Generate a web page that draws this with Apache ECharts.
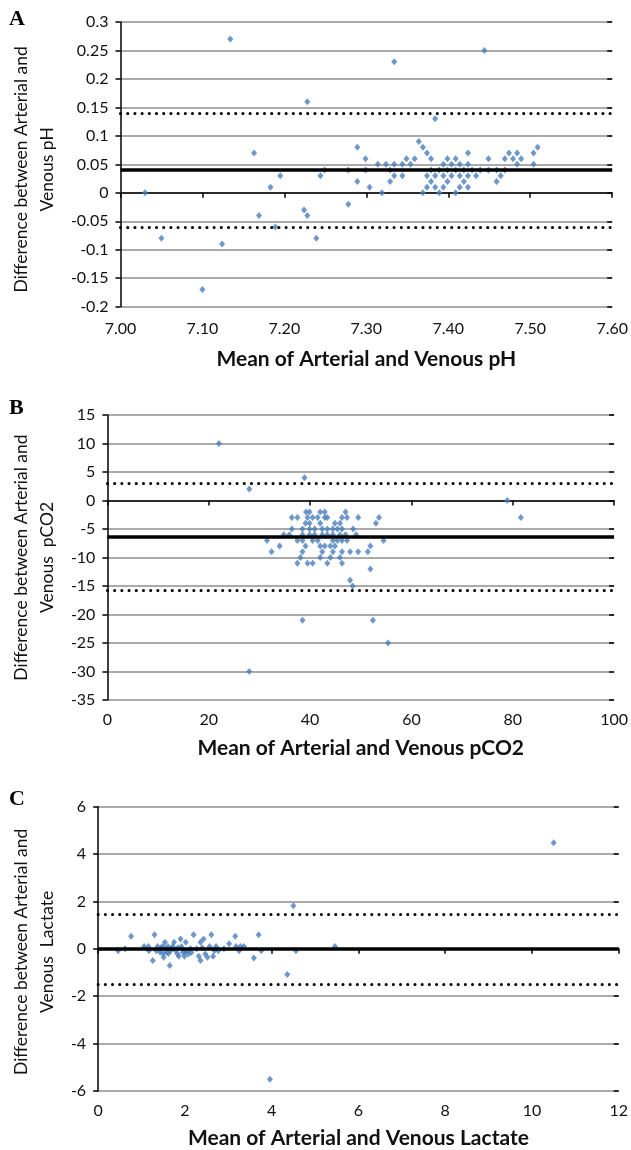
<!DOCTYPE html>
<html>
<head>
<meta charset="utf-8">
<script src="https://cdn.jsdelivr.net/npm/echarts@6/dist/echarts.min.js"></script>
<style>
  html, body { margin: 0; padding: 0; background: #fff; }
  #main { width: 631px; height: 1150px; }
</style>
</head>
<body>
<div id="main"></div>
<script>
// panel A - pH
var phMean = [7.03, 7.05, 7.10, 7.124, 7.134, 7.163, 7.169, 7.183, 7.189, 7.195, 7.224, 7.228, 7.228, 7.239, 7.244, 7.249,
  7.278, 7.278, 7.289, 7.289, 7.299, 7.299, 7.304, 7.314, 7.319, 7.324, 7.329, 7.329, 7.334, 7.334, 7.334, 7.344, 7.344,
  7.349, 7.354, 7.359, 7.364, 7.369, 7.369, 7.374, 7.374, 7.374, 7.379, 7.379, 7.379, 7.384, 7.384, 7.384, 7.389, 7.389,
  7.394, 7.394, 7.394, 7.399, 7.399, 7.399, 7.404, 7.404, 7.409, 7.409, 7.409, 7.414, 7.414, 7.414, 7.419, 7.419,
  7.424, 7.424, 7.424, 7.424, 7.429, 7.434, 7.439, 7.444, 7.449, 7.449, 7.459, 7.459, 7.464, 7.469, 7.469, 7.474,
  7.479, 7.484, 7.484, 7.489, 7.504, 7.504, 7.509];
var phDiff = [0, -0.08, -0.17, -0.09, 0.27, 0.07, -0.04, 0.01, -0.06, 0.03, -0.03, 0.16, -0.04, -0.08, 0.03, 0.04,
  0.04, -0.02, 0.08, 0.02, 0.06, 0.04, 0.01, 0.05, 0, 0.05, 0.04, 0.02, 0.23, 0.05, 0.03, 0.05, 0.03,
  0.06, 0.05, 0.06, 0.09, 0.08, 0, 0.07, 0.03, 0.01, 0.06, 0.04, 0.02, 0.13, 0.03, 0.01, 0.04, 0,
  0.05, 0.03, 0.01, 0.06, 0.04, 0.02, 0.05, 0.03, 0.06, 0.04, 0, 0.05, 0.03, 0.01, 0.04, 0.02,
  0.07, 0.05, 0.03, 0.01, 0.04, 0.03, 0.04, 0.25, 0.06, 0.04, 0.04, 0.02, 0.03, 0.06, 0.04, 0.07,
  0.06, 0.07, 0.05, 0.06, 0.07, 0.05, 0.08];
var phLines = [0.037, 0.14, -0.06]; // mean, upper, lower

// panel B - pCO2
var co2Mean = [22, 28, 38.9, 78.9, 81.6, 31.5, 32.4, 34, 34.8, 35.9, 36.4, 36.4, 37.5, 37.5, 37.5, 38.1, 38.5, 38.5,
  38.5, 38.5, 39.1, 39.1, 39.2, 39.5, 39.9, 39.9, 39.5, 39.9, 39.9, 40.5, 40.5, 40.5, 40.9, 40.9, 41.5, 41.5,
  42, 42, 42, 42, 42.4, 42.4, 42.4, 42.9, 42.9, 42.9, 43.4, 43.4, 43.4, 43.4, 44, 44, 44.5, 44.5, 44.5, 44.5,
  44.9, 44.9, 45.4, 45.4, 45.9, 45.9, 45.9, 46.3, 46.3, 46.3, 46.3, 46.3, 47, 47, 47.3, 47.3, 47.9, 47.9,
  48.4, 48.5, 49.1, 49.5, 49.5, 51.4, 51.9, 51.9, 53, 53.6, 54.5, 38.5, 52.4, 55.4, 28];
var co2Diff = [10, 2, 4, 0, -3, -7, -9, -8, -6, -6, -3, -5, -3, -7, -11, -10, -9, -5,
  -6, -7, -4, -8, -2, -11, -2, -4, -3, -5, -6, -3, -7, -11, -5, -6, -3, -7,
  -4, -8, -10, -2, -5, -6, -9, -2, -3, -8, -11, -3, -5, -6, -8, -10, -5, -6, -7, -9,
  -4, -8, -5, -7, -4, -6, -10, -3, -5, -7, -9, -11, -2, -6, -3, -7, -9, -14,
  -15, -5, -6, -3, -9, -9, -8, -12, -4, -3, -7, -21, -21, -25, -30];
var co2Lines = [-6.35, 3, -15.8];

// panel C - lactate
var lacMean = [0.46, 0.62, 0.76, 1.06, 1.16, 1.17, 1.26, 1.30, 1.34, 1.37, 1.43, 1.49, 1.51, 1.54, 1.56, 1.58, 1.61,
  1.65, 1.67, 1.72, 1.75, 1.79, 1.83, 1.86, 1.90, 1.92, 1.95, 1.99, 2.02, 2.06, 2.08, 2.13, 2.20, 2.27, 2.32,
  2.36, 2.36, 2.43, 2.47, 2.52, 2.57, 2.61, 2.65, 2.68, 2.72, 2.77, 2.90, 3.02, 3.16, 3.18, 3.25, 3.28, 3.36,
  3.59, 3.70, 3.76, 3.96, 4.36, 4.50, 4.56, 5.46, 10.50, 1.5, 1.62, 1.7, 1.84, 2.0, 2.15, 2.4, 1.45];
var lacDiff = [-0.08, 0, 0.53, 0.1, 0.1, -0.08, -0.49, 0.59, -0.08, 0.1, -0.14, 0.1, -0.35, 0.28, 0, -0.14, 0.1,
  -0.7, -0.08, 0.1, 0.28, -0.08, -0.22, -0.31, 0.42, 0.1, -0.14, -0.31, 0.28, -0.08, -0.22, 0, 0.59, 0, -0.31,
  -0.49, 0.28, 0.42, -0.22, -0.35, 0.1, 0.59, -0.31, -0.08, 0.1, -0.08, 0, 0.22, 0.53, 0.1, -0.08, 0.1, 0.1,
  -0.39, 0.59, -0.08, -5.5, -1.08, 1.82, -0.08, 0.1, 4.48, -0.2, -0.2, 0, 0.05, -0.1, -0.15, 0.05, 0.05];
var lacLines = [0, 1.47, -1.5];

var xTitles = ['Mean of Arterial and Venous pH', 'Mean of Arterial and Venous pCO2', 'Mean of Arterial and Venous Lactate'];
var yTitles = ['Difference between Arterial and\nVenous pH', 'Difference between Arterial and\nVenous  pCO2', 'Difference between Arterial and\nVenous  Lactate'];
var letters = ['A', 'B', 'C'];

var myChart = echarts.init(document.getElementById('main'));

function zip(a, b) {
  var out = [];
  for (var i = 0; i < a.length; i++) out.push([a[i], b[i]]);
  return out;
}

var tickFont = { fontFamily: 'Lato', fontSize: 16, color: '#111' };

function xAxisFor(i, min, max, step, gap, margin, fmt) {
  return {
    gridIndex: i, type: 'value', min: min, max: max, interval: step,
    name: xTitles[i], nameLocation: 'middle', nameGap: gap,
    nameTextStyle: { fontFamily: 'Lato', fontWeight: 'bold', fontSize: 21, color: '#111' },
    axisLine: { lineStyle: { color: '#000', width: 1.5 } },
    axisTick: { show: true, length: 5, lineStyle: { color: '#000', width: 1.5 } },
    axisLabel: Object.assign({ margin: margin, showMinLabel: true, showMaxLabel: true, formatter: fmt }, tickFont),
    splitLine: { show: false }
  };
}

function yAxisFor(i, min, max, step, gap, shift) {
  return {
    gridIndex: i, type: 'value', min: min, max: max, interval: step,
    name: yTitles[i], nameLocation: 'middle', nameRotate: 90, nameGap: gap,
    nameTextStyle: { fontFamily: 'Lato', fontSize: 17.5, lineHeight: 26, color: '#111', padding: [0, shift, 0, 0] },
    axisLine: { show: true, lineStyle: { color: '#000', width: 1.5 } },
    axisTick: { show: true, length: 5, lineStyle: { color: '#000', width: 1.5 } },
    axisLabel: Object.assign({ margin: 12, showMinLabel: true, showMaxLabel: true }, tickFont),
    splitLine: { show: true, lineStyle: { color: '#8e8e8e', width: 1.5 } }
  };
}

// second y axis per grid, only for the inner half of the cross ticks
function yInnerTicks(i, min, max, step) {
  return {
    gridIndex: i, type: 'value', min: min, max: max, interval: step,
    axisLine: { show: false },
    axisTick: { show: true, inside: true, length: 5, lineStyle: { color: '#000', width: 1.5 } },
    axisLabel: { show: false },
    splitLine: { show: false }
  };
}

function seriesFor(i, xs, ys, lines) {
  return {
    type: 'scatter', xAxisIndex: i, yAxisIndex: i,
    symbol: 'diamond', symbolSize: [6, 7],
    itemStyle: { color: '#4a7ebb' },
    data: zip(xs, ys),
    z: 3,
    markLine: {
      silent: true, symbol: ['none', 'none'], label: { show: false }, animation: false,
      data: [
        { yAxis: lines[0], lineStyle: { color: '#000', width: 3.5, type: 'solid' } },
        { yAxis: lines[1], lineStyle: { color: '#000', width: 3, type: [0.1, 7.1], cap: 'round' } },
        { yAxis: lines[2], lineStyle: { color: '#000', width: 3, type: [0.1, 7.1], cap: 'round' } }
      ]
    }
  };
}

var letterTops = [8, 397, 788];

var option = {
  animation: false,
  backgroundColor: '#fff',
  grid: [
    { left: 113.5, right: 15.5, top: 22, height: 284.7 },
    { left: 99.5, right: 13, top: 415, height: 285 },
    { left: 89.5, right: 8, top: 806.7, height: 285.6 }
  ],
  xAxis: [
    xAxisFor(0, 7.0, 7.6, 0.1, 42, 14, function (v) { return v.toFixed(2); }),
    xAxisFor(1, 0, 100, 20, 38, 12),
    xAxisFor(2, 0, 12, 2, 37, 12)
  ],
  yAxis: [
    yAxisFor(0, -0.2, 0.3, 0.05, 55, 10),
    yAxisFor(1, -35, 15, 5, 46.5, 0),
    yAxisFor(2, -6, 6, 2, 30, 6),
    yInnerTicks(0, -0.2, 0.3, 0.05),
    yInnerTicks(1, -35, 15, 5),
    yInnerTicks(2, -6, 6, 2)
  ],
  graphic: letters.map(function (t, i) {
    return {
      type: 'text', left: 9, top: letterTops[i],
      style: { text: t, font: 'bold 22px "Liberation Serif", "DejaVu Serif", serif', fill: '#000' }
    };
  }),
  series: [
    seriesFor(0, phMean, phDiff, phLines),
    seriesFor(1, co2Mean, co2Diff, co2Lines),
    seriesFor(2, lacMean, lacDiff, lacLines)
  ]
};
myChart.setOption(option);
</script>
</body>
</html>
